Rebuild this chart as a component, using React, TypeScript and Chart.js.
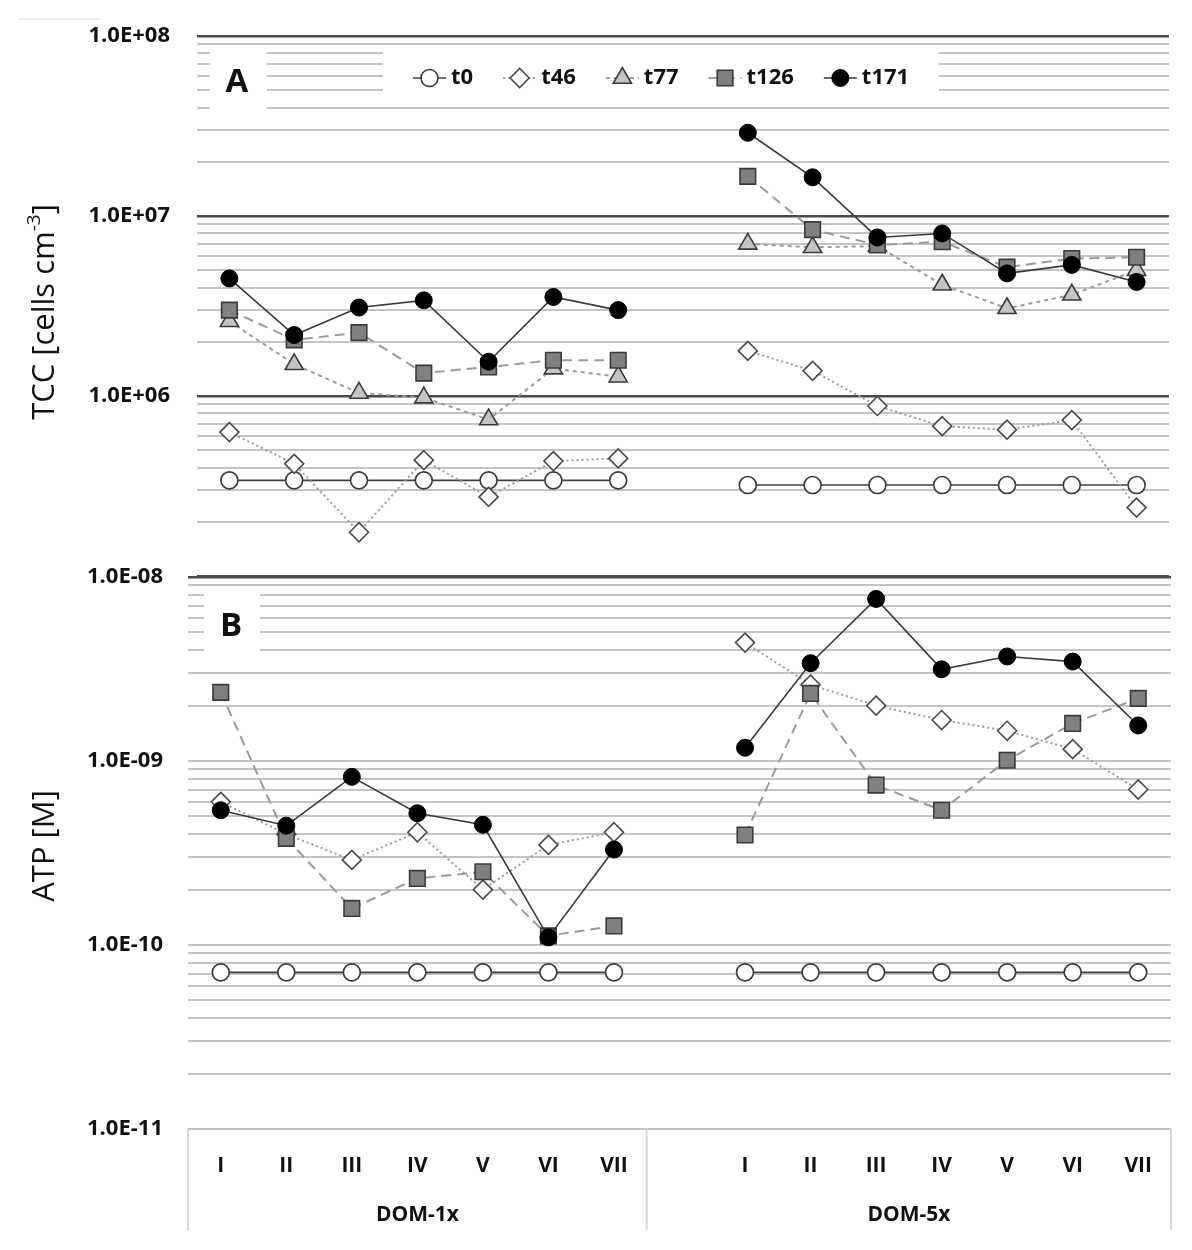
import React, { useEffect, useRef } from 'react';
import { Chart, registerables } from 'chart.js';
import { drawPoint } from 'chart.js/helpers';

Chart.register(...registerables);

// ---------- data ----------
const categories = ['I', 'II', 'III', 'IV', 'V', 'VI', 'VII', '', 'I', 'II', 'III', 'IV', 'V', 'VI', 'VII'];
const groupNames = ['DOM-1x', 'DOM-5x'];
const groupLastIndex = [6, 14];
const seriesNames = ['t0', 't46', 't77', 't126', 't171'];

// TCC [cells cm-3]
const tccT0 = [3.4e5, 3.4e5, 3.4e5, 3.4e5, 3.4e5, 3.4e5, 3.4e5, null, 3.2e5, 3.2e5, 3.2e5, 3.2e5, 3.2e5, 3.2e5, 3.2e5];
const tccT46 = [6.3e5, 4.2e5, 1.75e5, 4.4e5, 2.75e5, 4.35e5, 4.5e5, null, 1.78e6, 1.38e6, 8.8e5, 6.8e5, 6.5e5, 7.35e5, 2.4e5];
const tccT77 = [2.6e6, 1.5e6, 1.04e6, 9.8e5, 7.4e5, 1.42e6, 1.28e6, null, 7.0e6, 6.7e6, 6.8e6, 4.15e6, 3.07e6, 3.65e6, 5.0e6];
const tccT126 = [3.0e6, 2.05e6, 2.25e6, 1.34e6, 1.45e6, 1.58e6, 1.58e6, null, 1.66e7, 8.4e6, 6.9e6, 7.2e6, 5.2e6, 5.8e6, 5.9e6];
const tccT171 = [4.5e6, 2.18e6, 3.1e6, 3.4e6, 1.55e6, 3.55e6, 3.0e6, null, 2.9e7, 1.64e7, 7.6e6, 8.0e6, 4.8e6, 5.35e6, 4.3e6];

// ATP [M]
const atpT0 = [7.1e-11, 7.1e-11, 7.1e-11, 7.1e-11, 7.1e-11, 7.1e-11, 7.1e-11, null, 7.1e-11, 7.1e-11, 7.1e-11, 7.1e-11, 7.1e-11, 7.1e-11, 7.1e-11];
const atpT46 = [6.0e-10, 4.0e-10, 2.9e-10, 4.1e-10, 2.0e-10, 3.5e-10, 4.1e-10, null, 4.4e-9, 2.6e-9, 2.0e-9, 1.67e-9, 1.46e-9, 1.16e-9, 7.0e-10];
const atpT77 = [null, null, null, null, null, null, null, null, null, null, null, null, null, null, null];
const atpT126 = [2.36e-9, 3.8e-10, 1.58e-10, 2.3e-10, 2.5e-10, 1.12e-10, 1.27e-10, null, 3.96e-10, 2.33e-9, 7.4e-10, 5.4e-10, 1.01e-9, 1.6e-9, 2.19e-9];
const atpT171 = [5.4e-10, 4.45e-10, 8.2e-10, 5.2e-10, 4.5e-10, 1.1e-10, 3.3e-10, null, 1.18e-9, 3.4e-9, 7.6e-9, 3.15e-9, 3.7e-9, 3.47e-9, 1.56e-9];

// axis ticks
const tccMajorTicks = [1e5, 1e6, 1e7, 1e8];
const tccTickLabels = ['', '1.0E+06', '1.0E+07', '1.0E+08'];
const atpMajorTicks = [1e-11, 1e-10, 1e-9, 1e-8];
const atpTickLabels = ['1.0E-11', '1.0E-10', '1.0E-09', '1.0E-08'];

const tccTitle = ['TCC [cells cm', '-3', ']'];
const atpTitle = ['ATP [M]'];
const panelLetters = ['A', 'B'];

// ---------- styles ----------
const FONT = '"Open Sans", "DejaVu Sans", sans-serif';
const TEXT = '#111111';
const GRID_MINOR = '#c4c4c4';
const GRID_MAJOR = '#4a4a4a';

const seriesStyles: any[] = [
  { borderColor: '#404040', borderWidth: 1.6, borderDash: [], pointStyle: 'circle', pointRadius: 8.5, pointBackgroundColor: '#ffffff', pointBorderColor: '#3a3a3a', pointBorderWidth: 1.6 },
  { borderColor: '#9a9a9a', borderWidth: 2, borderDash: [2, 3], pointStyle: 'rectRot', pointRadius: 9.5, pointBackgroundColor: '#ffffff', pointBorderColor: '#4a4a4a', pointBorderWidth: 1.6 },
  { borderColor: '#9a9a9a', borderWidth: 2, borderDash: [4, 4], pointStyle: 'triangle', pointRadius: 10.5, pointBackgroundColor: '#c4c4c4', pointBorderColor: '#3a3a3a', pointBorderWidth: 1.6 },
  { borderColor: '#9a9a9a', borderWidth: 2, borderDash: [10, 6], pointStyle: 'rect', pointRadius: 11, pointBackgroundColor: '#808080', pointBorderColor: '#3a3a3a', pointBorderWidth: 1.6 },
  { borderColor: '#3a3a3a', borderWidth: 1.6, borderDash: [], pointStyle: 'circle', pointRadius: 8.5, pointBackgroundColor: '#000000', pointBorderColor: '#000000', pointBorderWidth: 1 },
];

function buildDatasets(values: (number | null)[][]) {
  return seriesNames.map((name, i) => ({
    label: name,
    data: values[i],
    ...seriesStyles[i],
    pointHoverRadius: seriesStyles[i].pointRadius,
    fill: false,
    tension: 0,
    spanGaps: false,
    order: seriesNames.length - i,
  }));
}

function gridValues(majors: number[]) {
  const out: number[] = [];
  for (let i = 0; i < majors.length - 1; i++) {
    for (let k = 1; k <= 9; k++) out.push(k * majors[i]);
  }
  out.push(majors[majors.length - 1]);
  return out;
}

function majorIndex(v: number, majors: number[]) {
  return majors.findIndex((m) => Math.abs(v / m - 1) < 1e-6);
}

function yScale(majors: number[], labels: string[], width: number, pad: number, darkAll: boolean) {
  const vals = gridValues(majors);
  const isDark = (v: number) => {
    const idx = majorIndex(v, majors);
    if (idx < 0) return false;
    return darkAll ? true : idx === majors.length - 1;
  };
  return {
    type: 'logarithmic',
    min: majors[0],
    max: majors[majors.length - 1],
    afterFit: (s: any) => {
      s.width = width;
      s.paddingTop = 0;
      s.paddingBottom = 0;
    },
    afterBuildTicks: (s: any) => { s.ticks = vals.map((v) => ({ value: v })); },
    border: { display: false },
    grid: {
      drawTicks: false,
      color: (c: any) => (isDark(c.tick.value) ? GRID_MAJOR : GRID_MINOR),
      lineWidth: (c: any) => (isDark(c.tick.value) ? 2.5 : 2),
    },
    ticks: {
      autoSkip: false,
      padding: pad,
      color: TEXT,
      font: { family: FONT, size: 22, weight: 'bold' },
      callback: (v: any) => {
        const idx = majorIndex(Number(v), majors);
        return idx >= 0 ? labels[idx] : '';
      },
    },
  };
}

function drawTitle(ctx: CanvasRenderingContext2D, cx: number, cy: number, parts: string[]) {
  const main = `normal 31px ${FONT}`;
  const sup = `normal 19px ${FONT}`;
  ctx.save();
  ctx.translate(cx, cy);
  ctx.rotate(-Math.PI / 2);
  ctx.fillStyle = TEXT;
  ctx.textBaseline = 'middle';
  ctx.textAlign = 'left';
  const widths = parts.map((p, i) => {
    ctx.font = i === 1 ? sup : main;
    return ctx.measureText(p).width;
  });
  let x = -widths.reduce((a, b) => a + b, 0) / 2;
  parts.forEach((p, i) => {
    ctx.font = i === 1 ? sup : main;
    ctx.fillText(p, x, i === 1 ? -10 : 0);
    x += widths[i];
  });
  ctx.restore();
}

function drawLetterBox(ctx: CanvasRenderingContext2D, box: number[], letter: string, lx: number, ly: number) {
  ctx.save();
  ctx.fillStyle = '#ffffff';
  ctx.fillRect(box[0], box[1], box[2], box[3]);
  ctx.fillStyle = TEXT;
  ctx.font = `bold 33px ${FONT}`;
  ctx.textAlign = 'center';
  ctx.textBaseline = 'middle';
  ctx.fillText(letter, lx, ly);
  ctx.restore();
}

function drawLegend(chart: any) {
  const ctx: CanvasRenderingContext2D = chart.ctx;
  ctx.save();
  ctx.fillStyle = '#ffffff';
  ctx.fillRect(383, 47, 556, 53);
  let x = 413;
  const y = 78;
  const font = `bold 22px ${FONT}`;
  chart.data.datasets.forEach((ds: any) => {
    ctx.save();
    ctx.strokeStyle = ds.borderColor;
    ctx.lineWidth = ds.borderWidth;
    ctx.setLineDash(ds.borderDash || []);
    ctx.beginPath();
    ctx.moveTo(x, y);
    ctx.lineTo(x + 33, y);
    ctx.stroke();
    ctx.setLineDash([]);
    ctx.fillStyle = ds.pointBackgroundColor;
    ctx.strokeStyle = ds.pointBorderColor;
    ctx.lineWidth = ds.pointBorderWidth;
    drawPoint(ctx, { pointStyle: ds.pointStyle, radius: ds.pointRadius, borderWidth: ds.pointBorderWidth, rotation: 0 } as any, x + 16.5, y);
    ctx.restore();
    ctx.fillStyle = TEXT;
    ctx.font = font;
    ctx.textAlign = 'left';
    ctx.textBaseline = 'middle';
    ctx.fillText(ds.label, x + 38, y);
    x += 38 + ctx.measureText(ds.label).width + 30;
  });
  ctx.restore();
}

export default function App() {
  const refA = useRef<HTMLCanvasElement>(null);
  const refB = useRef<HTMLCanvasElement>(null);

  useEffect(() => {
    const overlayA = {
      id: 'overlayA',
      beforeDatasetsDraw(chart: any) {
        drawLetterBox(chart.ctx, [210, 47, 57, 62], panelLetters[0], 237, 83);
        drawLegend(chart);
      },
      afterDraw(chart: any) {
        const ctx = chart.ctx;
        ctx.save();
        ctx.strokeStyle = '#e6e6e6';
        ctx.lineWidth = 1.5;
        ctx.beginPath();
        ctx.moveTo(18, 19);
        ctx.lineTo(100, 19);
        ctx.stroke();
        ctx.restore();
        drawTitle(ctx, 45, 312, tccTitle);
      },
    };

    const overlayB = {
      id: 'overlayB',
      beforeDatasetsDraw(chart: any) {
        drawLetterBox(chart.ctx, [204, 30, 56, 75], panelLetters[1], 231, 67);
      },
      afterDraw(chart: any) {
        const ctx: CanvasRenderingContext2D = chart.ctx;
        const xs = chart.scales.x;
        const area = chart.chartArea;
        const half = (xs.getPixelForValue(1) - xs.getPixelForValue(0)) / 2;
        const bounds = [area.left, ...groupLastIndex.map((i) => xs.getPixelForValue(i) + half)];
        bounds[bounds.length - 1] = area.right;
        ctx.save();
        ctx.strokeStyle = '#d6d6d6';
        ctx.lineWidth = 2;
        bounds.forEach((bx) => {
          ctx.beginPath();
          ctx.moveTo(bx, area.bottom);
          ctx.lineTo(bx, area.bottom + 101);
          ctx.stroke();
        });
        ctx.fillStyle = TEXT;
        ctx.font = `bold 21px ${FONT}`;
        ctx.textAlign = 'center';
        ctx.textBaseline = 'middle';
        groupNames.forEach((g, i) => {
          ctx.fillText(g, (bounds[i] + bounds[i + 1]) / 2, area.bottom + 86);
        });
        ctx.restore();
        drawTitle(ctx, 45, 286, atpTitle);
      },
    };

    const common = {
      responsive: false,
      animation: false,
      events: [],
      plugins: { legend: { display: false }, tooltip: { enabled: false } },
    };

    const chartA = new Chart(refA.current!, {
      type: 'line',
      data: { labels: categories, datasets: buildDatasets([tccT0, tccT46, tccT77, tccT126, tccT171]) as any },
      options: {
        ...common,
        layout: { padding: { left: 0, right: 23, top: 36, bottom: 14 } },
        scales: {
          x: { display: false, offset: true },
          y: yScale(tccMajorTicks, tccTickLabels, 197, 27, true) as any,
        },
      } as any,
      plugins: [overlayA],
    });

    const chartB = new Chart(refB.current!, {
      type: 'line',
      data: { labels: categories, datasets: buildDatasets([atpT0, atpT46, atpT77, atpT126, atpT171]) as any },
      options: {
        ...common,
        layout: { padding: { left: 0, right: 21, top: 17, bottom: 20 } },
        scales: {
          x: {
            offset: true,
            afterFit: (s: any) => {
              s.height = 101;
              s.paddingLeft = 0;
              s.paddingRight = 0;
            },
            border: { display: false },
            grid: { display: false, drawTicks: false },
            ticks: {
              autoSkip: false,
              maxRotation: 0,
              padding: 24,
              color: TEXT,
              font: { family: FONT, size: 21, weight: 'bold' },
            },
          },
          y: yScale(atpMajorTicks, atpTickLabels, 188, 25, false) as any,
        },
      } as any,
      plugins: [overlayB],
    });

    return () => {
      chartA.destroy();
      chartB.destroy();
    };
  }, []);

  return (
    <div style={{ position: 'absolute', left: 0, top: 0, width: 1192, height: 1250, background: '#ffffff', overflow: 'hidden' }}>
      <canvas ref={refA} width={1192} height={590} style={{ position: 'absolute', left: 0, top: 0, width: 1192, height: 590 }} />
      <canvas ref={refB} width={1192} height={690} style={{ position: 'absolute', left: 0, top: 560, width: 1192, height: 690 }} />
    </div>
  );
}
